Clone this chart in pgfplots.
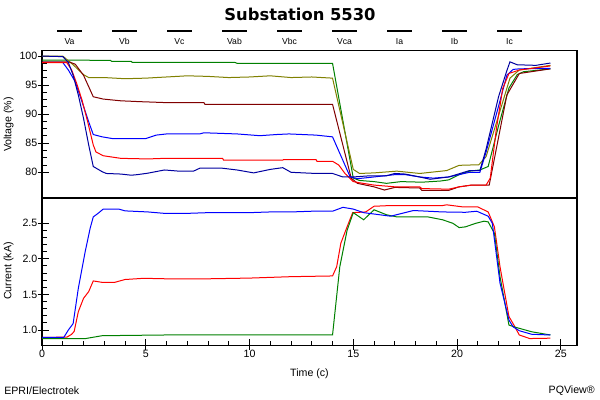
\documentclass[border=0pt]{standalone}
\usepackage{fontspec}
\setmainfont{Liberation Sans}
\newfontfamily\titlefont{DejaVu Sans}
\usepackage{pgfplots}
\pgfplotsset{compat=1.18}
\definecolor{cgreen}{RGB}{0,128,0}
\definecolor{colive}{RGB}{128,128,0}
\definecolor{cmaroon}{RGB}{128,0,0}
\definecolor{cblue}{RGB}{0,0,255}
\definecolor{cred}{RGB}{255,0,0}
\definecolor{cnavy}{RGB}{0,0,160}
\pgfplotsset{
  pqaxis/.style={
    scale only axis,
    width=401.25bp,
    xmin=0, xmax=25.78,
    axis line style={line width=1bp},
    tick style={black, line width=0.75bp},
    tick align=inside,
    major tick length=5bp,
    minor tick length=3.5bp,
    ytick pos=left,
    xtick pos=bottom,
    tick label style={font=\fontsize{8}{9}\selectfont},
    /pgf/number format/assume math mode=true,
    extra tick style={tick align=outside, major tick length=3bp},
    every axis plot/.append style={line width=0.75bp},
  }
}
\begin{document}
\begin{tikzpicture}
\path[use as bounding box] (0,0) rectangle (450bp,300bp);
% top panel: voltages
\begin{axis}[pqaxis, at={(31.5bp,151.5bp)}, anchor=south west,
  height=110.6bp, ymin=75.58, ymax=100.95,
  xtick=\empty, ytick={80,85,90,95,100}, minor y tick num=3,
  extra y ticks={80,85,90,95,100}, extra y tick labels={}]
\addplot[cgreen] coordinates {(0,99.3)(1.5,99.3)(3.3,99.25)(3.35,99.1)(4.3,99.1)(4.35,98.9)(9.3,98.9)(9.4,98.75)(14.0,98.75)(15.0,79.0)(15.3,78.6)(16.0,78.4)(16.6,78.1)(17.3,78.4)(18.3,78.3)(19.2,78.5)(19.6,78.7)(20.1,79.6)(20.6,80.2)(21.1,80.4)(21.5,81.0)(22.0,88)(22.5,94.5)(22.9,96.8)(23.2,97.3)(24.5,97.8)};
\addplot[colive] coordinates {(0,100)(1.0,100)(1.5,98.5)(2.0,96.8)(2.25,96.3)(3,96.3)(4,96.1)(5,96.2)(6,96.4)(7,96.6)(8,96.5)(9,96.3)(10,96.4)(11,96.6)(12,96.3)(13,96.4)(14.0,96.2)(15.0,80.5)(15.3,79.8)(16,79.9)(17.1,80.2)(18.2,79.8)(19.5,80.3)(20.1,81.2)(21.05,81.3)(21.4,82.7)(22.55,96.2)(23.0,97.6)(24.5,98.4)};
\addplot[cmaroon] coordinates {(0,99.0)(1.3,99.0)(1.6,98.6)(2.0,96.7)(2.47,93.0)(2.95,92.6)(3.8,92.3)(4.75,92.15)(5.9,92.0)(7.8,92.0)(7.85,91.7)(14.0,91.7)(14.9,79.0)(15.2,78.1)(16.0,77.5)(16.5,76.95)(17,77.4)(18.2,77.3)(18.3,76.9)(19.6,76.9)(20.1,77.5)(20.7,77.8)(21.55,77.8)(22.4,93.3)(23.0,97.0)(24.5,97.8)};
\addplot[cblue] coordinates {(0,98.9)(1.0,98.9)(1.27,97.6)(1.6,95.6)(1.93,92.1)(2.25,88.7)(2.47,86.5)(2.9,86.1)(3.4,85.8)(5.0,85.8)(5.5,86.4)(6.0,86.6)(7.6,86.6)(7.8,86.8)(9.4,86.6)(10.5,86.3)(11.3,86.5)(11.9,86.6)(13.2,86.4)(14.0,86.1)(14.85,79.2)(15.2,78.9)(16.0,79.2)(17.0,79.6)(17.5,79.6)(18.2,79.2)(18.85,79.0)(19.6,79.2)(20.6,80.0)(21.1,80.0)(21.4,83.5)(22.1,92.7)(22.4,96.7)(22.7,97.7)(23,97.8)(24.5,97.9)};
\addplot[cred] coordinates {(0,98.85)(1.2,98.85)(1.43,97.6)(1.67,95.3)(1.93,92.4)(2.2,88.7)(2.47,84.7)(2.6,83.5)(2.95,82.85)(3.8,82.4)(5.1,82.3)(5.9,82.4)(8.7,82.4)(8.75,82.1)(11.6,82.1)(11.65,82.2)(13.2,82.2)(13.25,81.9)(14.0,81.9)(14.3,81.25)(14.6,79.8)(15.0,78.4)(15.3,78.2)(16,77.8)(17,77.5)(18.2,77.5)(18.3,77.2)(19.6,77.1)(20.1,77.5)(20.7,77.8)(21.4,77.8)(21.6,79.0)(21.9,87.6)(22.2,94.4)(22.5,97.0)(23.0,97.6)(24.5,98.3)};
\addplot[cnavy] coordinates {(0,100)(1.0,99.9)(1.27,98.9)(1.5,96.7)(1.75,93.3)(2.0,89.3)(2.25,84.7)(2.47,81.0)(2.9,80.1)(3.1,79.8)(3.8,79.7)(4.3,79.5)(4.6,79.6)(5.1,79.85)(5.9,80.4)(6.6,80.2)(7.3,80.2)(7.6,80.7)(8.7,80.7)(9.4,80.4)(10.2,79.9)(11.0,80.5)(11.6,80.8)(12.0,80.0)(13.2,79.8)(14.0,79.8)(14.5,79.2)(15,79.2)(15.8,79.4)(16.6,79.4)(17,79.8)(17.5,79.7)(18.2,79.2)(18.7,78.8)(19.6,79.2)(20.6,80.3)(21.1,80.3)(21.4,84)(22.0,93)(22.4,97.5)(22.55,99.0)(22.9,98.5)(23.8,98.4)(24.5,98.8)};
\end{axis}
% bottom panel: currents
\begin{axis}[pqaxis, at={(31.5bp,40.7bp)}, anchor=south west,
  height=110.8bp, ymin=0.779, ymax=2.856,
  xtick={0,5,...,25}, minor x tick num=4,
  ytick={1.0,1.5,2.0,2.5}, minor y tick num=4,
  extra x ticks={0,5,10,15,20,25}, extra x tick labels={},
  extra y ticks={1.0,1.5,2.0,2.5}, extra y tick labels={},
  yticklabel style={/pgf/number format/.cd, fixed, fixed zerofill, precision=1},
  xlabel={Time (c)}, xlabel style={font=\fontsize{8}{9}\selectfont, yshift=2bp}]
\addplot[cred] coordinates {(0,0.896)(1.2,0.90)(1.43,0.94)(1.55,0.98)(1.75,1.257)(2.0,1.445)(2.25,1.54)(2.47,1.69)(2.9,1.67)(3.5,1.67)(4.0,1.71)(4.9,1.727)(6,1.72)(8,1.72)(10,1.73)(12,1.75)(14.0,1.76)(14.2,1.89)(14.4,2.22)(14.7,2.45)(14.97,2.65)(15.6,2.66)(16.0,2.74)(16.8,2.75)(19.3,2.75)(19.5,2.76)(20.3,2.73)(21.0,2.73)(21.5,2.66)(21.8,2.45)(22.07,1.89)(22.5,1.19)(22.7,1.09)(23.0,0.93)(23.5,0.88)(24.5,0.885)};
\addplot[cgreen] coordinates {(0,0.88)(2.1,0.88)(2.9,0.92)(5.9,0.93)(14.0,0.93)(14.35,1.89)(14.7,2.4)(15.0,2.65)(15.5,2.55)(16.0,2.69)(16.6,2.62)(17.1,2.59)(18.6,2.59)(19.3,2.55)(19.8,2.5)(20.1,2.44)(20.4,2.45)(20.9,2.5)(21.3,2.53)(21.5,2.52)(21.8,2.36)(22.07,1.75)(22.5,1.07)(22.8,1.04)(23.6,0.975)(24.5,0.93)};
\addplot[cblue] coordinates {(0,0.896)(1.05,0.896)(1.27,1.0)(1.5,1.09)(1.75,1.586)(2.08,2.10)(2.32,2.43)(2.47,2.59)(2.7,2.64)(2.95,2.70)(3.7,2.70)(4.0,2.675)(5.1,2.66)(5.9,2.64)(7,2.64)(8,2.65)(9,2.65)(10,2.65)(11,2.66)(12,2.66)(13,2.67)(14,2.67)(14.5,2.725)(15.0,2.70)(15.5,2.65)(16.8,2.60)(17.9,2.68)(19.3,2.66)(20.4,2.655)(20.95,2.67)(21.5,2.60)(21.7,2.5)(22.07,1.66)(22.5,1.14)(22.7,1.045)(23.0,0.99)(23.6,0.94)(24.5,0.93)};
\end{axis}
% title, labels, legend, footer
\node[font=\titlefont\bfseries\fontsize{12.3}{14}\selectfont] at (225bp,289.5bp) {Substation 5530};
\node[rotate=90, font=\fontsize{8}{9}\selectfont] at (6.4bp,206.6bp) {Voltage (\%)};
\node[rotate=90, font=\fontsize{8}{9}\selectfont] at (6.4bp,96.75bp) {Current (kA)};
\foreach \lab [count=\i from 0] in {Va,Vb,Vc,Vab,Vbc,Vca,Ia,Ib,Ic} {
  \draw[black, line width=1.5bp] ({42.75bp+\i*41.25bp},276.4bp) -- ({61.5bp+\i*41.25bp},276.4bp);
  \node[font=\fontsize{6.5}{7}\selectfont] at ({52.1bp+\i*41.25bp},268.7bp) {\lab};
}
\node[anchor=west, font=\fontsize{8}{9}\selectfont, inner sep=0pt] at (3bp,6.75bp) {EPRI/Electrotek};
\node[anchor=east, font=\fontsize{8}{9}\selectfont, inner sep=0pt] at (446.25bp,6.75bp) {PQView\textregistered};
\end{tikzpicture}
\end{document}
